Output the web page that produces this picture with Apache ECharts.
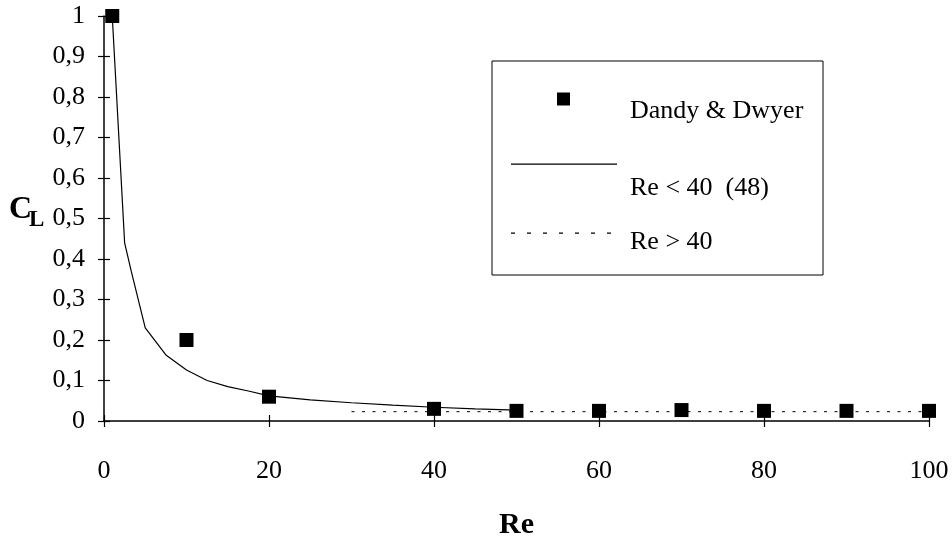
<!DOCTYPE html>
<html><head><meta charset="utf-8">
<script src="https://cdn.jsdelivr.net/npm/echarts@6/dist/echarts.min.js"></script>
<style>html,body{margin:0;padding:0;background:#fff}#c{width:952px;height:538px}</style>
</head><body><div id="c"></div>
<script>
var scatterRe = [1, 10, 20, 40, 50, 60, 70, 80, 90, 100];
var scatterCL = [1.0, 0.2, 0.06, 0.03, 0.025, 0.025, 0.027, 0.025, 0.025, 0.025];
var curveRe = [1, 2.5, 3.3, 5, 7.5, 10, 12.5, 15, 17.5, 20, 25, 30, 35, 40, 45, 50];
var curveCL = [1.0, 0.44, 0.37, 0.23, 0.163, 0.126, 0.1, 0.085, 0.074, 0.062, 0.052, 0.045, 0.039, 0.034, 0.030, 0.027];
var highRe = [30, 100];
var highCL = [0.023, 0.023];
var xTicks = [0, 20, 40, 60, 80, 100];
var yTicks = [0, 0.1, 0.2, 0.3, 0.4, 0.5, 0.6, 0.7, 0.8, 0.9, 1];
var names = ['Dandy & Dwyer', 'Re < 40  (48)', 'Re > 40'];

function zip(a, b) { return a.map(function (v, i) { return [v, b[i]]; }); }
var FONT = '"Liberation Serif", "Times New Roman", serif';
var chart = echarts.init(document.getElementById('c'));

// legend icons (shape at the top of the icon box so the label sits lower)
var squareIcon = 'path://M46,0H59V13H46Z M0,38H0.01 M106,38H106.01 M0,0H0.01';
var solidIcon = 'path://M0,0H106V1.3H0Z M0,50H0.01';
var dotted = 'path://';
for (var k = 0; k < 106; k += 16) dotted += 'M' + k + ',0H' + (k + 4) + 'V1.2H' + k + 'Z ';
dotted += 'M0,20H0.01 M106,20H106.01';

function leg(name, top, h, icon) {
  return {
    data: [{ name: name, icon: icon }], left: 511, top: top, padding: 0, orient: 'vertical',
    itemWidth: 106, itemHeight: h, selectedMode: false,
    itemStyle: { color: '#000', borderWidth: 0 },
    textStyle: { fontFamily: FONT, fontSize: 26, color: '#000', padding: [0, 0, 0, 8], lineHeight: 20 }
  };
}
function xAx(inside) {
  return {
    type: 'value', min: 0, max: 100, interval: 20, position: 'bottom',
    name: inside ? '' : 'Re', nameLocation: 'middle', nameGap: 89,
    nameTextStyle: { fontFamily: FONT, fontSize: 30, fontWeight: 'bold', color: '#000' },
    axisLine: { show: !inside, lineStyle: { color: '#000', width: 1.5 } },
    axisTick: { inside: inside, length: 6, lineStyle: { color: '#000', width: 1.2 } },
    splitLine: { show: false },
    axisLabel: { show: !inside, margin: 37, fontFamily: FONT, fontSize: 26, color: '#000' }
  };
}
function yAx(inside) {
  return {
    type: 'value', min: 0, max: 1, interval: 0.1, position: 'left',
    axisLine: { show: !inside, lineStyle: { color: '#000', width: 1.5 } },
    axisTick: { show: true, inside: inside, length: 6, lineStyle: { color: '#000', width: 1.2 } },
    splitLine: { show: false },
    axisLabel: {
      show: !inside, margin: 19, fontFamily: FONT, fontSize: 26, color: '#000',
      formatter: function (v) { return String(Math.round(v * 10) / 10).replace('.', ','); }
    }
  };
}
chart.setOption({
  animation: false,
  backgroundColor: '#fff',
  grid: { left: 104, right: 23, top: 16, bottom: 117, containLabel: false, outerBoundsMode: 'none' },
  xAxis: [xAx(false), xAx(true)],
  yAxis: [yAx(false), yAx(true)],
  legend: [
    leg(names[0], 92.5, 38, squareIcon),
    leg(names[1], 163.5, 50, solidIcon),
    leg(names[2], 229.5, 20, dotted)
  ],
  graphic: [
    { type: 'rect', shape: { x: 492, y: 61, width: 331, height: 214 }, style: { fill: 'none', stroke: '#000', lineWidth: 1 }, z: 10 },
    { type: 'text', left: 9, top: 194, style: { text: 'C', font: 'bold 32px ' + FONT, fill: '#000' } },
    { type: 'text', left: 29, top: 209, style: { text: 'L', font: 'bold 23px ' + FONT, fill: '#000' } }
  ],
  series: [
    {
      name: names[0], type: 'scatter', data: zip(scatterRe, scatterCL),
      symbol: 'rect', symbolSize: 14, itemStyle: { color: '#000', opacity: 1 }, z: 5
    },
    {
      name: names[1], type: 'line', data: zip(curveRe, curveCL),
      showSymbol: false, symbol: 'none', smooth: false,
      lineStyle: { color: '#000', width: 1.2 }, itemStyle: { color: '#000' }
    },
    {
      name: names[2], type: 'line', data: zip(highRe, highCL),
      showSymbol: false, symbol: 'none',
      lineStyle: { color: '#000', width: 1, type: [3, 7.5] }, itemStyle: { color: '#000' }
    }
  ]
});
</script></body></html>
